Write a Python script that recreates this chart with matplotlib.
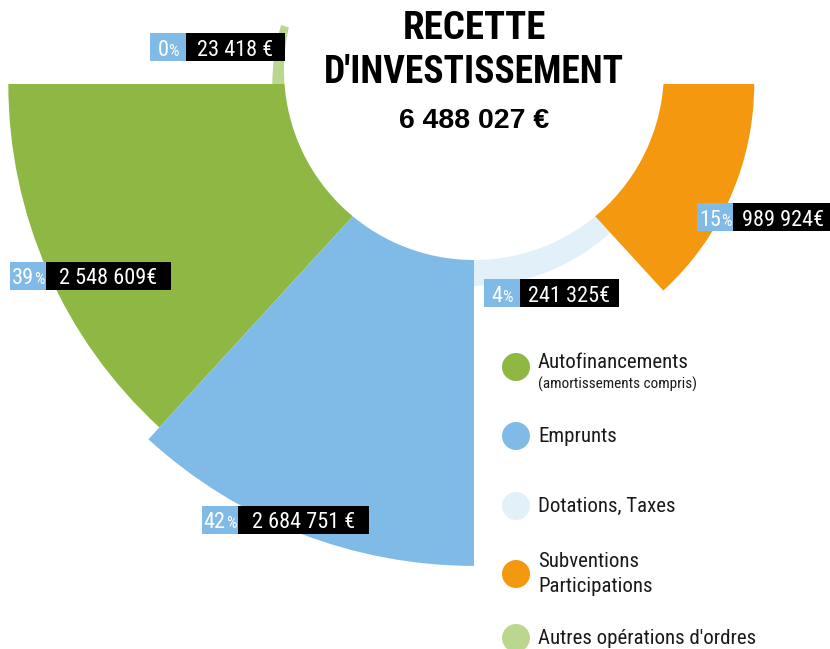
import matplotlib
matplotlib.use("Agg")
import matplotlib.pyplot as plt
from matplotlib import font_manager
from matplotlib.patches import Circle, Rectangle
import numpy as np

# ---------------- data ----------------
categories = ["Autofinancements", "Emprunts", "Dotations, Taxes",
              "Subventions\nParticipations", "Autres opérations d'ordres"]
legend_notes = ["(amortissements compris)", "", "", "", ""]
values = [2548609, 2684751, 241325, 989924, 23418]
percent_labels = ["39", "42", "4", "15", "0"]
value_labels = ["2 548 609€", "2 684 751 €", "241 325€", "989 924€", "23 418 €"]
title_lines = ["RECETTE", "D'INVESTISSEMENT"]

# ---------------- style / layout ----------------
colors = ["#8EB743", "#80BBE7", "#E2F1F9", "#F3980F", "#BBD78F"]
PCT_BG = "#80BBE7"
theta_start_deg = [132.5, 90, 47.5, 0, 180]
theta_span_deg = [47.5, 42.5, 42.5, 47.5, 17]
MIN_DRAWN_VALUE = 330000          # keeps the tiny slice visible beyond the hole

W, H = 830, 649
CX, CY = 474, 84                  # pixel centre of the rose
INNER_PX = 162.4                  # pixel radius of value 0
PX_PER_EURO = 1.19e-4
RMAX = 2_800_000
HOLE_CX, HOLE_CY, HOLE_R = 474, 70, 190

label_box = [(10, 262, 125), (202, 506, 131), (484, 279, 99), (697, 203, 100), (150, 33, 99)]
PCT_W, BOX_H = 36, 28
legend_y = [367, 436, 506, 574, 638]
LEG_X, LEG_R, LEG_TX = 516, 14, 538

available = {f.name for f in font_manager.fontManager.ttflist}


def pick(*names):
    for n in names:
        if n in available:
            return n
    return "DejaVu Sans"


NARROW = pick("Roboto Condensed", "Liberation Sans Narrow", "Liberation Sans")
WIDE = pick("Liberation Sans", "DejaVu Sans")

# ---------------- figure ----------------
fig = plt.figure(figsize=(W / 100, H / 100), dpi=100)
R_AX = INNER_PX + PX_PER_EURO * RMAX
rorigin = -INNER_PX / PX_PER_EURO
axp = fig.add_axes([(CX - R_AX) / W, 1 - (CY + R_AX) / H, 2 * R_AX / W, 2 * R_AX / H],
                   projection="polar")
axp.set_theta_zero_location("E")
axp.set_theta_direction(-1)
axp.set_rorigin(rorigin)
axp.set_rlim(0, RMAX)
drawn = [max(v, MIN_DRAWN_VALUE) for v in values]
axp.bar(np.deg2rad(theta_start_deg), drawn, width=np.deg2rad(theta_span_deg),
        bottom=0, align="edge", color=colors, linewidth=0)
axp.set_axis_off()

ax = fig.add_axes([0, 0, 1, 1])
ax.set_xlim(0, W)
ax.set_ylim(H, 0)
ax.set_axis_off()

# white centre disc
ax.add_patch(Circle((HOLE_CX, HOLE_CY), HOLE_R, color="white", lw=0, zorder=1))

# title
ax.text(HOLE_CX, 39, title_lines[0], ha="center", va="baseline", fontsize=28,
        fontweight="bold", family=[NARROW, "DejaVu Sans"], color="black", zorder=3)
ax.text(HOLE_CX, 83, title_lines[1], ha="center", va="baseline", fontsize=27,
        fontweight="bold", family=[NARROW, "DejaVu Sans"], color="black", zorder=3)
total = sum(values)
total_label = f"{total:,}".replace(",", " ") + " €"
ax.text(HOLE_CX, 128, total_label, ha="center", va="baseline", fontsize=20.5,
        fontweight="bold", family=[WIDE, "DejaVu Sans"], color="black", zorder=3)

# value labels
renderer = fig.canvas.get_renderer()
for i, (bx, by, vw) in enumerate(label_box):
    ax.add_patch(Rectangle((bx, by), PCT_W, BOX_H, color=PCT_BG, lw=0, zorder=4))
    ax.add_patch(Rectangle((bx + PCT_W, by), vw, BOX_H, color="black", lw=0, zorder=4))
    base = by + 22.5
    t1 = ax.text(0, base, percent_labels[i], ha="left", va="baseline", fontsize=16,
                 family=[NARROW, "DejaVu Sans"], color="white", zorder=5)
    t2 = ax.text(0, base, "%", ha="left", va="baseline", fontsize=12,
                 family=[NARROW, "DejaVu Sans"], color="white", zorder=5)
    w1 = t1.get_window_extent(renderer).width
    w2 = t2.get_window_extent(renderer).width
    x0 = bx + PCT_W / 2 - (w1 + w2) / 2
    t1.set_x(x0)
    t2.set_x(x0 + w1)
    ax.text(bx + PCT_W + vw / 2, base, value_labels[i], ha="center", va="baseline",
            fontsize=16, family=[NARROW, "DejaVu Sans"], color="white", zorder=5)

# legend
for i, cat in enumerate(categories):
    ax.add_patch(Circle((LEG_X, legend_y[i]), LEG_R, color=colors[i], lw=0, zorder=3))
    if legend_notes[i]:
        ax.text(LEG_TX, legend_y[i] - 5, cat, ha="left", va="center", fontsize=15,
                family=[NARROW, "DejaVu Sans"], color="#1a1a1a", zorder=3)
        ax.text(LEG_TX, legend_y[i] + 17, legend_notes[i], ha="left", va="center",
                fontsize=11, family=[NARROW, "DejaVu Sans"], color="#1a1a1a", zorder=3)
    else:
        ax.text(LEG_TX, legend_y[i], cat, ha="left", va="center", fontsize=15,
                linespacing=1.45, family=[NARROW, "DejaVu Sans"], color="#1a1a1a", zorder=3)

fig.savefig("out.png", dpi=100)
